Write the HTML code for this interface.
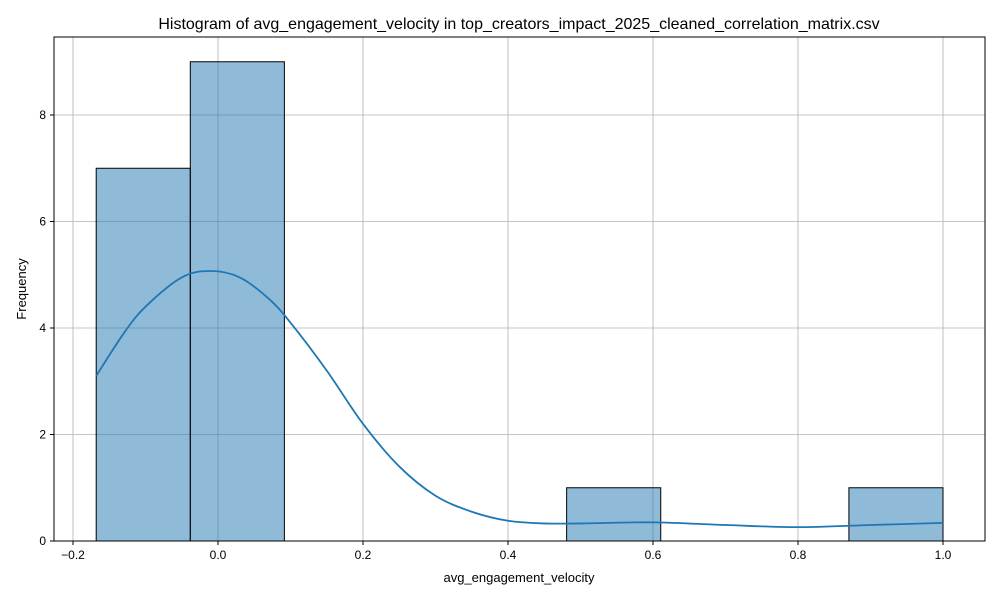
<!DOCTYPE html>
<html><head><meta charset="utf-8"><style>
body{margin:0;background:#fff;}
text{font-family:"Liberation Sans","DejaVu Sans",sans-serif;fill:#000;}
</style></head><body>
<svg id="chart" width="1000" height="600" xmlns="http://www.w3.org/2000/svg">
<rect width="1000" height="600" fill="#fff"/>
<text x="519" y="29" font-size="16" text-anchor="middle">Histogram of avg_engagement_velocity in top_creators_impact_2025_cleaned_correlation_matrix.csv</text>
<g id="grid"></g><g id="bars"></g><g id="kde"></g><g id="axes"></g>
<text x="519" y="582" font-size="13" text-anchor="middle">avg_engagement_velocity</text>
<text transform="translate(26,289) rotate(-90)" font-size="13" text-anchor="middle">Frequency</text>
</svg>
<script>
const binMin = -0.168;
const binMax = 1.0;
const counts = [7, 9, 0, 0, 0, 1, 0, 0, 1];
const kdeX = [-0.168, -0.13, -0.1, -0.05, -0.01, 0.03, 0.07, 0.1, 0.15, 0.2, 0.25, 0.3, 0.35, 0.4, 0.45, 0.5, 0.6, 0.7, 0.8, 0.9, 1.0];
const kdeY = [3.1, 3.9, 4.4, 4.95, 5.07, 4.95, 4.55, 4.1, 3.2, 2.2, 1.4, 0.85, 0.55, 0.38, 0.33, 0.33, 0.35, 0.3, 0.26, 0.3, 0.34];
const xTicks = [-0.2, 0.0, 0.2, 0.4, 0.6, 0.8, 1.0];
const xTickLabels = ["−0.2", "0.0", "0.2", "0.4", "0.6", "0.8", "1.0"];
const yTicks = [0, 2, 4, 6, 8];

const L=54,R=985,T=37,B=541;
const X=v=>218+v*725;
const Y=v=>B-v*53.25;
const NS="http://www.w3.org/2000/svg";
function mk(parent,tag,attrs){const e=document.createElementNS(NS,tag);for(const k in attrs)e.setAttribute(k,attrs[k]);document.getElementById(parent).appendChild(e);return e;}

xTicks.forEach((t,i)=>{
  const g=mk('grid','line',{x1:X(t),x2:X(t),y1:T,y2:B,stroke:'#b0b0b0','stroke-width':0.8});
  
  
  const tk=mk('axes','line',{x1:X(t),x2:X(t),y1:B,y2:B+4,stroke:'#000'});
  
  
  const lb=mk('axes','text',{x:X(t),y:B+18,'font-size':12,'text-anchor':'middle'});
  lb.textContent=xTickLabels[i];
  
  
});
yTicks.forEach(t=>{
  const g=mk('grid','line',{x1:L,x2:R,y1:Y(t),y2:Y(t),stroke:'#b0b0b0','stroke-width':0.8});
  
  
  const tk=mk('axes','line',{x1:L-4,x2:L,y1:Y(t),y2:Y(t),stroke:'#000'});
  
  
  const lb=mk('axes','text',{x:L-8,y:Y(t)+4,'font-size':12,'text-anchor':'end'});
  lb.textContent=String(t);
  
  
});
const w=(binMax-binMin)/counts.length;
counts.forEach((c,i)=>{
  if(c<=0)return;
  const x0=X(binMin+i*w),x1=X(binMin+(i+1)*w);
  const r=mk('bars','rect',{x:x0,y:Y(c),width:x1-x0,height:B-Y(c),fill:'rgba(31,119,180,0.5)',stroke:'#000','stroke-width':1});
  
  
});
// smooth KDE via catmull-rom
const pts=kdeX.map((x,i)=>[X(x),Y(kdeY[i])]);
let d=`M${pts[0][0]},${pts[0][1]}`;
for(let i=0;i<pts.length-1;i++){
  const p0=pts[Math.max(0,i-1)],p1=pts[i],p2=pts[i+1],p3=pts[Math.min(pts.length-1,i+2)];
  d+=` C${p1[0]+(p2[0]-p0[0])/6},${p1[1]+(p2[1]-p0[1])/6} ${p2[0]-(p3[0]-p1[0])/6},${p2[1]-(p3[1]-p1[1])/6} ${p2[0]},${p2[1]}`;
}
const k=mk('kde','path',{d:d,fill:'none',stroke:'#1f77b4','stroke-width':1.8});


const fr=mk('axes','rect',{x:L,y:T,width:R-L,height:B-T,fill:'none',stroke:'#000','stroke-width':1});


</script>
</body></html>
